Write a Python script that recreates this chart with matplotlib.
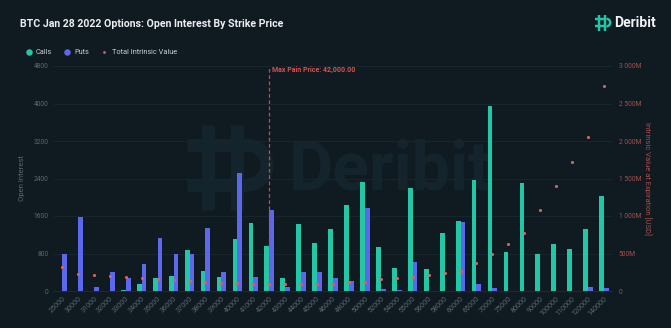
import matplotlib
matplotlib.use("Agg")
import matplotlib.pyplot as plt
from matplotlib.patches import Arc
from matplotlib.ticker import FuncFormatter
import numpy as np

strikes = ['25000', '30000', '31000', '32000', '33000', '34000', '35000', '36000', '37000',
           '38000', '39000', '40000', '41000', '42000', '43000', '44000', '45000', '46000',
           '48000', '50000', '52000', '54000', '55000', '56000', '58000', '60000', '65000',
           '70000', '75000', '80000', '90000', '100000', '110000', '120000', '140000']
calls = [0, 0, 0, 0, 25, 150, 270, 320, 880, 425, 305, 1115, 1455, 965, 270, 1430, 1030,
         1325, 1840, 2325, 930, 485, 2190, 460, 1245, 1500, 2370, 3945, 835, 2300, 790, 995,
         895, 1330, 2020]
puts = [790, 1570, 90, 400, 285, 570, 1130, 790, 780, 1345, 410, 2515, 290, 1720, 85, 410,
        405, 285, 220, 1765, 35, 15, 610, 0, 0, 1465, 150, 60, 0, 0, 0, 0, 0, 80, 65]
intrinsic_musd = [320, 227, 213, 200, 187, 169, 160, 142, 138, 120, 111, 102, 93, 88, 90, 93,
                  95, 100, 116, 124, 156, 178, 191, 209, 240, 271, 378, 493, 630, 770, 1076,
                  1396, 1716, 2049, 2737]
max_pain = '42000'
oi_ticks = [0, 800, 1600, 2400, 3200, 4000, 4800]
iv_ticks = [0, 500, 1000, 1500, 2000, 2500, 3000]

BG = '#0f1a21'
CALL = '#22c7a6'
PUT = '#5b67ec'
DOT = '#e0605b'
GRID = '#17252c'
TICK = '#5a6870'
RTICK = '#a8504d'
WM = '#14242c'
FONT = ['Roboto', 'DejaVu Sans']

plt.rcParams['font.family'] = FONT

fig = plt.figure(figsize=(6.71, 3.28), dpi=100, facecolor=BG)

# background overlay in pixel coordinates (for watermark, legend, logo)
bg = fig.add_axes([0, 0, 1, 1], zorder=0)
bg.set_xlim(0, 671)
bg.set_ylim(328, 0)
bg.axis('off')


def draw_logo(a, x0, y0, s, color):
    lw = 13 * s * 0.72
    kw = dict(color=color, linewidth=lw, solid_capstyle='butt')
    a.plot([x0, x0 + 60 * s], [y0 + 20 * s, y0 + 20 * s], **kw)
    a.plot([x0, x0 + 60 * s], [y0 + 60 * s, y0 + 60 * s], **kw)
    a.add_patch(Arc((x0 + 60 * s, y0 + 40 * s), 40 * s, 40 * s, theta1=-90, theta2=90,
                    color=color, linewidth=lw))
    a.plot([x0 + 21 * s, x0 + 21 * s], [y0, y0 + 85 * s], **kw)
    a.plot([x0 + 50 * s, x0 + 50 * s], [y0, y0 + 85 * s], **kw)


# watermark
draw_logo(bg, 187, 125, 1.0, WM)
bg.text(390, 190, 'Deribit', fontsize=49, fontweight='bold', color=WM,
        ha='center', va='baseline')

ax = fig.add_axes([54 / 671, 37 / 328, (612 - 54) / 671, (291 - 66) / 328], zorder=2)
ax.set_facecolor('none')
ax2 = ax.twinx()
ax2.set_zorder(3)
ax2.patch.set_visible(False)

x = np.arange(len(strikes))
w = 0.3

ax.bar(x - w / 2, calls, width=w, color=CALL, zorder=3)
ax.bar(x + w / 2, puts, width=w, color=PUT, zorder=3)

ax.set_xlim(-0.5, len(strikes) - 0.5)
ax.set_ylim(0, 4800)
ax.set_yticks(oi_ticks)
ax.set_yticklabels([str(t) for t in oi_ticks])
ax.set_xticks(x)
ax.set_xticklabels(strikes, rotation=45, ha='right', rotation_mode='anchor')
ax.grid(axis='y', color=GRID, linewidth=0.8, zorder=0)
ax.set_axisbelow(True)

ax2.scatter(x, intrinsic_musd, s=5, color=DOT, zorder=5, linewidths=0)
ax2.set_ylim(0, 3000)
ax2.set_yticks(iv_ticks)
ax2.yaxis.set_major_formatter(FuncFormatter(
    lambda v, p: '0' if v == 0 else '{:,.0f}M'.format(v).replace(',', ' ')))

for a in (ax, ax2):
    for s in a.spines.values():
        s.set_visible(False)
    a.tick_params(length=0)
ax.spines['bottom'].set_visible(True)
ax.spines['bottom'].set_color('#1c2a32')
ax.tick_params(axis='x', colors=TICK, labelsize=5.2, pad=3)
ax.tick_params(axis='y', colors=TICK, labelsize=4.8, pad=4)
ax2.tick_params(axis='y', colors=RTICK, labelsize=4.8, pad=5)

ax.set_ylabel('Open Interest', color=TICK, fontsize=5.5)
ax.yaxis.set_label_coords((25 - 54) / 558, 0.5)
ax2.set_ylabel('Intrinsic Value at Expiration [USD]', color=RTICK, fontsize=5.5,
               rotation=270, va='center')
ax2.yaxis.set_label_coords((648 - 54) / 558, 0.5)

# max pain line
mp = strikes.index(max_pain)
ax.axvline(mp, color='#b5514f', linestyle=(0, (3, 2)), linewidth=0.9, zorder=4)
ax.text(mp + 0.15, 4800, 'Max Pain Price: 42,000.00', color='#d9534f', fontsize=5.0,
        fontweight='bold', va='top', ha='left')

# title
bg.text(20, 24, 'BTC Jan 28 2022 Options: Open Interest By Strike Price',
        color='#eceff1', fontsize=7.6, fontweight='bold', va='center', ha='left')

# logo
draw_logo(bg, 595, 15, 0.19, CALL)
bg.text(614, 23, 'Deribit', color='#f2f4f5', fontsize=10, fontweight='bold',
        va='center', ha='left')

# legend
bg.scatter([29], [52], s=22, color=CALL, linewidths=0)
bg.text(36, 52, 'Calls', color='#c9cfd3', fontsize=5.3, va='center', ha='left')
bg.scatter([67], [52], s=22, color=PUT, linewidths=0)
bg.text(74, 52, 'Puts', color='#c9cfd3', fontsize=5.3, va='center', ha='left')
bg.scatter([104], [52], s=4, color=DOT, linewidths=0)
bg.text(112, 52, 'Total Intrinsic Value', color='#c9cfd3', fontsize=5.3, va='center',
        ha='left')

fig.savefig('out.png', dpi=100, facecolor=BG)
